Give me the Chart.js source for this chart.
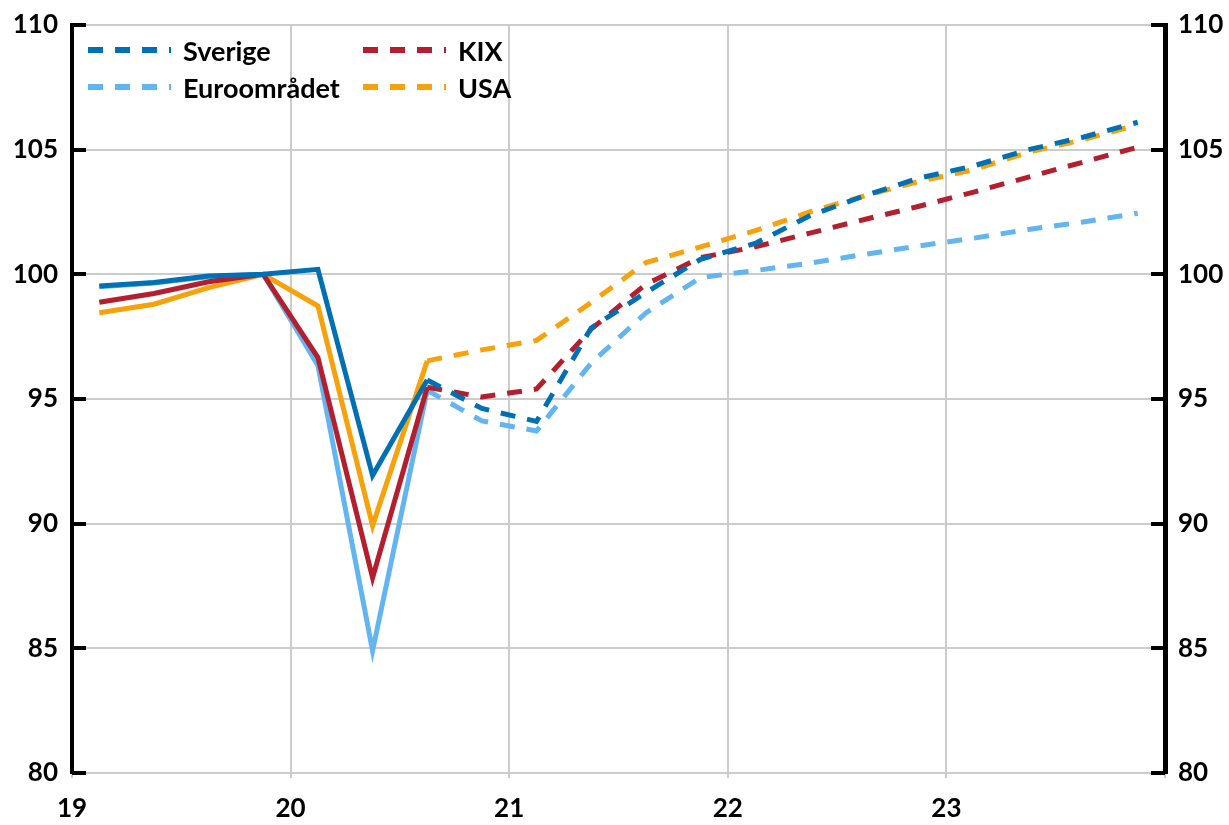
<!DOCTYPE html>
<html>
<head>
<meta charset="utf-8">
<script src="https://cdn.jsdelivr.net/npm/chart.js@4/dist/chart.umd.min.js"></script>
<style>
  html, body { margin: 0; padding: 0; background: #fff; }
  #wrap { position: relative; width: 1229px; height: 825px; }
  #legend { position: absolute; left: 0; top: 0; font-family: Lato, "Open Sans", sans-serif; font-weight: bold; font-size: 27px; color: #000; }
  .item { position: absolute; display: flex; align-items: center; white-space: nowrap; height: 30px; }
  .item svg { display: block; margin-right: 12px; }
</style>
</head>
<body>
<div id="wrap">
  <canvas id="c" width="1229" height="825"></canvas>
  <div id="legend"></div>
</div>
<script>
// ---- data ----
const quarters = ['2019Q1','2019Q2','2019Q3','2019Q4','2020Q1','2020Q2','2020Q3','2020Q4',
                  '2021Q1','2021Q2','2021Q3','2021Q4','2022Q1','2022Q2','2022Q3','2022Q4',
                  '2023Q1','2023Q2','2023Q3','2023Q4'];
const yearLabels = ['19', '20', '21', '22', '23', ''];
const yTicks = [80, 85, 90, 95, 100, 105, 110];
const forecastStart = 6; // index of 2020Q3: dashed from here on

const sverige = [99.53, 99.67, 99.93, 100.0, 100.2, 91.93, 95.76, 94.62, 94.1, 97.85,
                 99.27, 100.6, 101.24, 102.35, 103.15, 103.86, 104.35, 105.0, 105.5, 106.1];
const kix = [98.88, 99.23, 99.7, 100.0, 96.66, 87.83, 95.47, 95.08, 95.4, 97.8,
             99.6, 100.67, 101.1, 101.65, 102.2, 102.73, 103.3, 103.9, 104.5, 105.1];
const euro = [99.5, 99.65, 99.9, 100.0, 96.35, 84.9, 95.35, 94.12, 93.72, 96.44,
              98.45, 99.87, 100.15, 100.45, 100.8, 101.14, 101.45, 101.8, 102.1, 102.45];
const usa = [98.46, 98.8, 99.47, 100.0, 98.73, 89.92, 96.53, 96.97, 97.35, 98.87,
             100.47, 101.1, 101.75, 102.5, 103.15, 103.73, 104.2, 104.9, 105.4, 106.0];

const seriesNames = ['Sverige', 'KIX', 'USA', 'Euroområdet'];
const seriesData = [sverige, kix, usa, euro];
const seriesColors = ['#0070B5', '#B31F2E', '#F7A20A', '#62B5F0'];
// legend grid positions (col,row) for each series
const legendSlots = [[0,0],[1,0],[1,1],[0,1]];

const DASH = [15, 12];
const FONT = 'Lato, "Open Sans", sans-serif';

const datasets = seriesNames.map((name, k) => ({
  label: name,
  data: seriesData[k].map((v, i) => ({ x: i + 0.5, y: v })),
  borderColor: seriesColors[k],
  backgroundColor: seriesColors[k],
  borderWidth: 5,
  pointRadius: 0,
  pointHoverRadius: 0,
  tension: 0,
  borderJoinStyle: 'miter',
  borderCapStyle: 'butt',
  segment: {
    borderDash: ctx => ctx.p0DataIndex >= forecastStart ? DASH : undefined
  }
}));

const innerTicks = {
  id: 'innerTicks',
  afterDraw(chart) {
    const ctx = chart.ctx;
    const area = chart.chartArea;
    ctx.save();
    ctx.strokeStyle = '#000';
    ctx.lineWidth = 4;
    ['y', 'y2'].forEach(id => {
      const s = chart.scales[id];
      s.ticks.forEach(t => {
        const py = Math.round(s.getPixelForValue(t.value));
        ctx.beginPath();
        if (id === 'y') { ctx.moveTo(area.left, py); ctx.lineTo(area.left + 14, py); }
        else { ctx.moveTo(area.right, py); ctx.lineTo(area.right - 14, py); }
        ctx.stroke();
      });
    });
    ctx.restore();
  }
};

const yTickCfg = {
  font: { family: FONT, size: 26, weight: 'bold' },
  color: '#000',
};

new Chart(document.getElementById('c'), {
  type: 'line',
  data: { datasets },
  plugins: [innerTicks],
  options: {
    responsive: false,
    animation: false,
    devicePixelRatio: 1,
    layout: { padding: { top: 25, left: 0, right: 0, bottom: 0 } },
    plugins: { legend: { display: false }, tooltip: { enabled: false } },
    scales: {
      x: {
        type: 'linear',
        min: 0, max: quarters.length,
        afterBuildTicks: s => { s.ticks = yearLabels.map((_, i) => ({ value: i * 4 })); },
        ticks: {
          autoSkip: false,
          maxRotation: 0,
          padding: 15,
          font: { family: FONT, size: 26, weight: 'bold' },
          color: '#000',
          callback: v => yearLabels[v / 4]
        },
        grid: { color: '#cccccc', lineWidth: 2, drawTicks: true, tickLength: 5, tickColor: '#cccccc' },
        border: { display: false },
        afterFit: s => { s.height = 52; s.paddingLeft = 0; s.paddingRight = 0; }
      },
      y: {
        position: 'left',
        min: 80, max: 110,
        afterBuildTicks: s => { s.ticks = yTicks.map(v => ({ value: v })); },
        ticks: Object.assign({ padding: 14 }, yTickCfg),
        grid: { color: '#cccccc', lineWidth: 2, drawTicks: false },
        border: { display: true, color: '#000', width: 4 },
        afterFit: s => { s.width = 72; s.paddingTop = 0; s.paddingBottom = 0; }
      },
      y2: {
        position: 'right',
        min: 80, max: 110,
        afterBuildTicks: s => { s.ticks = yTicks.map(v => ({ value: v })); },
        ticks: Object.assign({ padding: 13 }, yTickCfg),
        grid: { display: true, drawOnChartArea: false, drawTicks: false },
        border: { display: true, color: '#000', width: 5 },
        afterFit: s => { s.width = 64; s.paddingTop = 0; s.paddingBottom = 0; }
      }
    }
  }
});

// ---- HTML legend ----
const legendEl = document.getElementById('legend');
const colX = [88, 363];
const rowY = [35, 72];
seriesNames.forEach((name, k) => {
  const [c, r] = legendSlots[k];
  const item = document.createElement('div');
  item.className = 'item';
  item.style.left = colX[c] + 'px';
  item.style.top = rowY[r] + 'px';
  const ns = 'http://www.w3.org/2000/svg';
  const svg = document.createElementNS(ns, 'svg');
  svg.setAttribute('width', '83');
  svg.setAttribute('height', '10');
  const ln = document.createElementNS(ns, 'line');
  ln.setAttribute('x1', '0'); ln.setAttribute('x2', '83');
  ln.setAttribute('y1', '5'); ln.setAttribute('y2', '5');
  ln.setAttribute('stroke', seriesColors[k]);
  ln.setAttribute('stroke-width', '6');
  ln.setAttribute('stroke-dasharray', DASH.join(' '));
  svg.appendChild(ln);
  const span = document.createElement('span');
  span.textContent = name;
  item.appendChild(svg);
  item.appendChild(span);
  legendEl.appendChild(item);
});
</script>
</body>
</html>
